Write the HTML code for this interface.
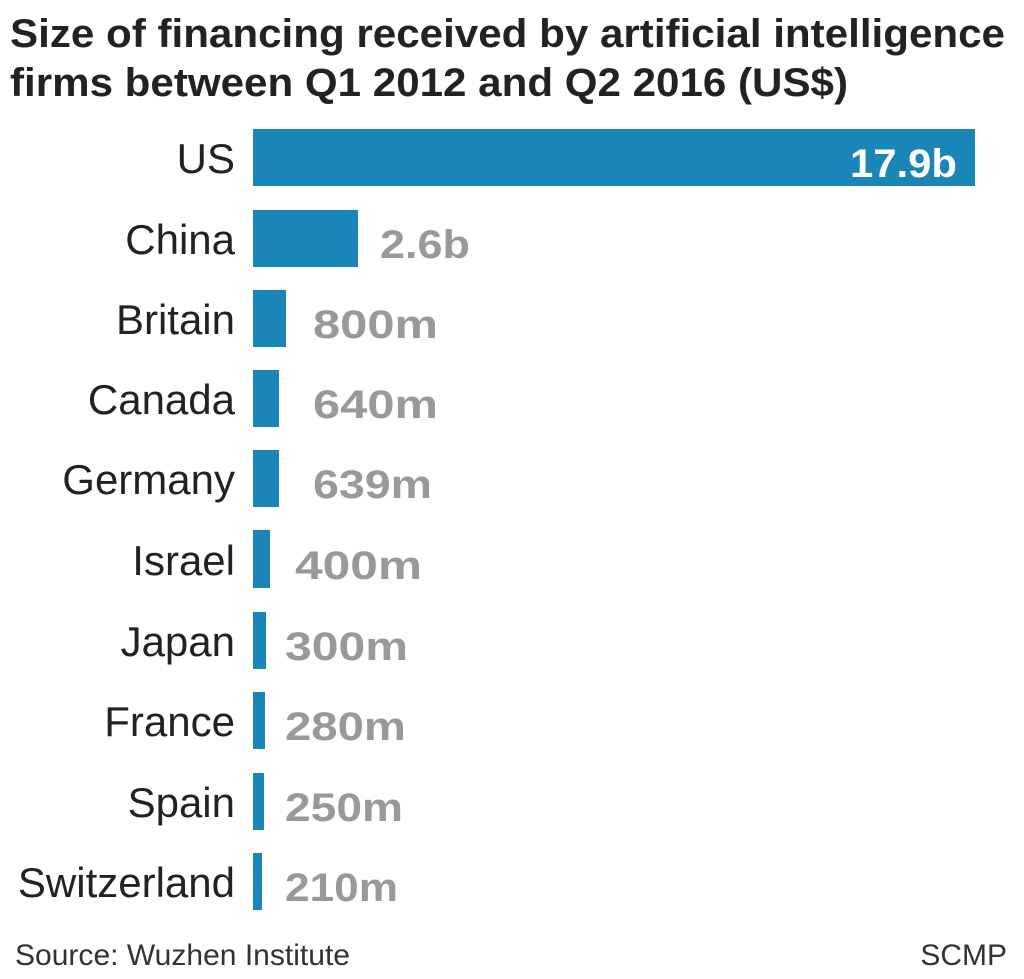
<!DOCTYPE html>
<html><head><style>body{margin:0;background:#fff}svg{display:block}</style></head><body>
<svg width="1024" height="979" xmlns="http://www.w3.org/2000/svg" font-family="Liberation Sans, sans-serif">
<text x="10" y="47" font-size="40" font-weight="bold" fill="#222" textLength="995" lengthAdjust="spacingAndGlyphs">Size of financing received by artificial intelligence</text>
<text x="10" y="96" font-size="40" font-weight="bold" fill="#222" textLength="838" lengthAdjust="spacingAndGlyphs">firms between Q1 2012 and Q2 2016 (US$)</text>
<g fill="#1a86b8">
<rect x="253" y="129" width="722" height="57"/>
<rect x="253" y="210" width="105" height="57"/>
<rect x="253" y="290" width="33" height="57"/>
<rect x="253" y="370" width="26" height="57"/>
<rect x="253" y="450" width="26" height="57"/>
<rect x="253" y="530" width="17" height="58"/>
<rect x="253" y="612" width="13" height="57"/>
<rect x="253" y="692" width="12" height="57"/>
<rect x="253" y="773" width="11" height="57"/>
<rect x="253" y="853" width="9" height="57"/>
</g>
<g font-size="42" fill="#222" text-anchor="end">
<text x="235" y="173">US</text>
<text x="235" y="254">China</text>
<text x="235" y="334">Britain</text>
<text x="235" y="414">Canada</text>
<text x="235" y="494">Germany</text>
<text x="235" y="575">Israel</text>
<text x="235" y="656">Japan</text>
<text x="235" y="736">France</text>
<text x="235" y="817">Spain</text>
<text x="235" y="897">Switzerland</text>
</g>
<text x="850" y="177" font-size="40" font-weight="bold" fill="#fff" textLength="107" lengthAdjust="spacingAndGlyphs">17.9b</text>
<g font-size="40" font-weight="bold" fill="#999">
<text x="380" y="258" textLength="90" lengthAdjust="spacingAndGlyphs">2.6b</text>
<text x="313" y="338" textLength="125" lengthAdjust="spacingAndGlyphs">800m</text>
<text x="313" y="418" textLength="125" lengthAdjust="spacingAndGlyphs">640m</text>
<text x="313" y="498" textLength="119" lengthAdjust="spacingAndGlyphs">639m</text>
<text x="295" y="579" textLength="127" lengthAdjust="spacingAndGlyphs">400m</text>
<text x="285" y="660" textLength="123" lengthAdjust="spacingAndGlyphs">300m</text>
<text x="285" y="740" textLength="121" lengthAdjust="spacingAndGlyphs">280m</text>
<text x="285" y="821" textLength="118" lengthAdjust="spacingAndGlyphs">250m</text>
<text x="285" y="901" textLength="113" lengthAdjust="spacingAndGlyphs">210m</text>
</g>
<text x="15" y="965" font-size="30" fill="#333" textLength="335" lengthAdjust="spacingAndGlyphs">Source: Wuzhen Institute</text>
<text x="1007" y="965" font-size="30" fill="#333" text-anchor="end">SCMP</text>
</svg>
</body></html>
